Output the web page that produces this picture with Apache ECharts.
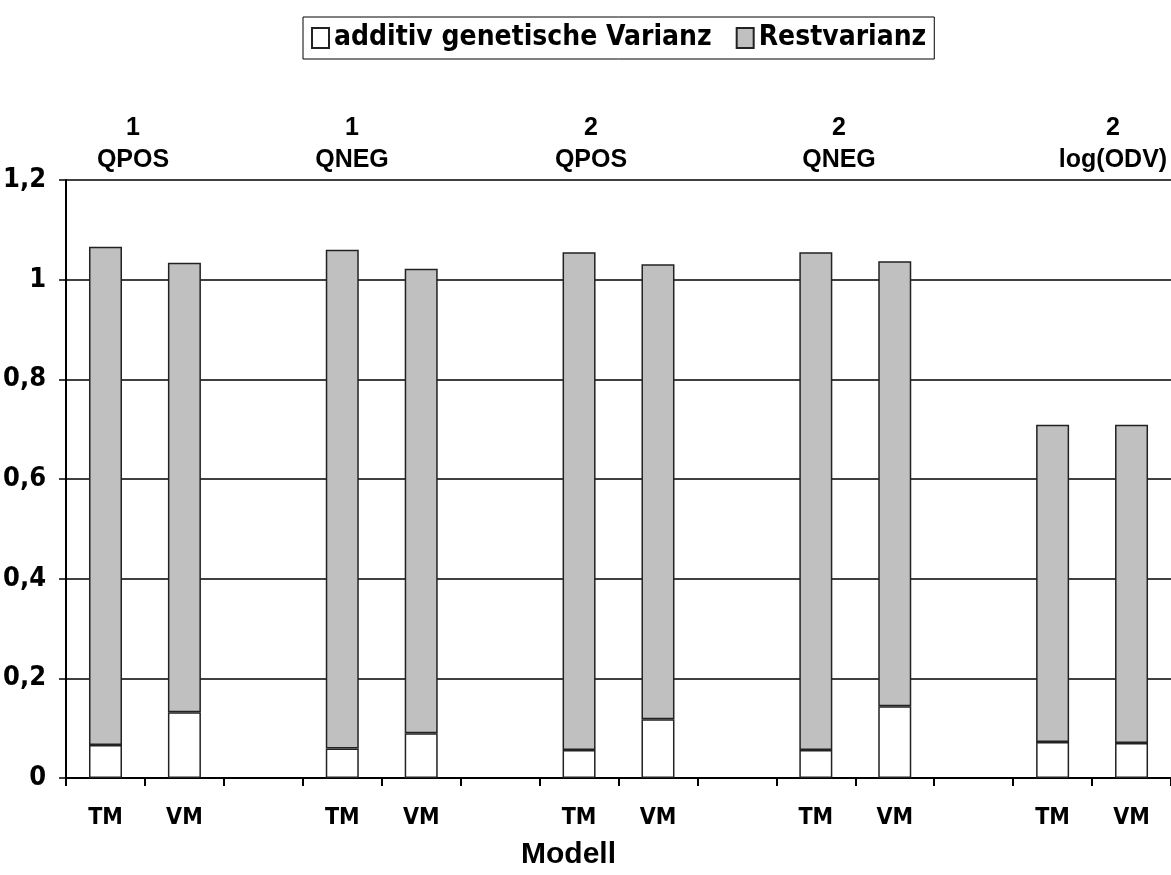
<!DOCTYPE html>
<html>
<head>
<meta charset="utf-8">
<script src="https://cdn.jsdelivr.net/npm/echarts@6/dist/echarts.min.js"></script>
<style>
html, body { margin: 0; padding: 0; background: #fff; }
#chart { width: 1171px; height: 875px; }
</style>
</head>
<body>
<div id="chart"></div>
<script>
// Kategorien: je Gruppe TM, VM und eine Lücke
const categories = ['TM', 'VM', '', 'TM', 'VM', '', 'TM', 'VM', '', 'TM', 'VM', '', 'TM', 'VM'];
const additiv = [0.066, 0.132, '-', 0.059, 0.090, '-', 0.056, 0.118, '-', 0.056, 0.144, '-', 0.072, 0.070];
const gesamt  = [1.066, 1.034, '-', 1.060, 1.022, '-', 1.055, 1.031, '-', 1.055, 1.037, '-', 0.709, 0.709];
const groupLabels = ['1\nQPOS', '1\nQNEG', '2\nQPOS', '2\nQNEG', '2\nlog(ODV)'];
const yTicks = [0, 0.2, 0.4, 0.6, 0.8, 1, 1.2];

const rest = gesamt.map((g, i) => g === '-' ? '-' : +(g - additiv[i]).toFixed(3));

const narrow = "'Liberation Sans Narrow', 'DejaVu Sans Condensed', sans-serif";
const arial = "'Liberation Sans', Arial, sans-serif";

// x-Positionen der Gruppentitel (Textfelder wie im Original frei platziert)
const titleX = [133, 352, 591, 839, 1113];

const chart = echarts.init(document.getElementById('chart'));
chart.setOption({
    animation: false,
    backgroundColor: '#fff',
    grid: { left: 64, right: -5, top: 180, bottom: 96 },
    legend: {
        left: 303,
        top: 17,
        padding: [7, 8, 7, 8],
        borderColor: '#000',
        borderWidth: 1,
        itemWidth: 17,
        itemHeight: 20,
        itemGap: 24,
        icon: 'rect',
        textStyle: { fontFamily: narrow, fontWeight: 'bold', fontSize: 28, color: '#000' },
        data: ['additiv genetische Varianz', 'Restvarianz']
    },
    xAxis: {
        type: 'category',
        data: categories,
        name: 'Modell',
        nameLocation: 'middle',
        nameGap: 62,
        nameTextStyle: { fontFamily: arial, fontWeight: 'bold', fontSize: 30, color: '#000', padding: [0, 100, 0, 0] },
        axisLine: { lineStyle: { color: '#000', width: 2 } },
        axisTick: { show: true, length: 8, interval: 0, lineStyle: { color: '#000', width: 2 } },
        axisLabel: { interval: 0, margin: 29, fontFamily: narrow, fontWeight: 'bold', fontSize: 23, color: '#000' }
    },
    yAxis: {
        type: 'value',
        min: 0,
        max: 1.2,
        interval: 0.2,
        axisLine: { show: true, lineStyle: { color: '#000', width: 2 } },
        axisTick: { show: true, length: 7, lineStyle: { color: '#000', width: 1.5 } },
        splitLine: { lineStyle: { color: '#000', width: 1.5 } },
        axisLabel: {
            margin: 20,
            fontFamily: narrow, fontWeight: 'bold', fontSize: 27, color: '#000',
            formatter: v => {
                const t = yTicks.find(x => Math.abs(x - v) < 1e-9);
                return String(+(t !== undefined ? t : v).toFixed(1)).replace('.', ',');
            }
        }
    },
    series: [
        {
            name: 'additiv genetische Varianz',
            type: 'bar',
            stack: 'v',
            barWidth: 33,
            data: additiv,
            itemStyle: { color: '#fff', borderColor: '#222', borderWidth: 1.5 }
        },
        {
            name: 'Restvarianz',
            type: 'bar',
            stack: 'v',
            barWidth: 33,
            data: rest,
            itemStyle: { color: '#c0c0c0', borderColor: '#222', borderWidth: 1.5 }
        }
    ],
    graphic: groupLabels.map((t, i) => ({
        type: 'text',
        x: titleX[i],
        y: 112,
        style: {
            text: t,
            align: 'center',
            font: 'bold 25px "Liberation Sans", Arial, sans-serif',
            lineHeight: 32,
            fill: '#000'
        }
    }))
});
</script>
</body>
</html>
